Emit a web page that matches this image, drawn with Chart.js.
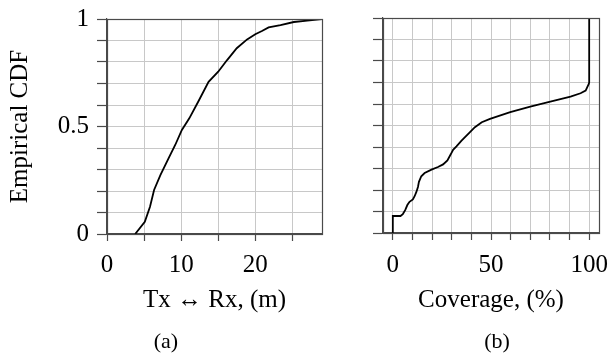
<!DOCTYPE html>
<html>
<head>
<meta charset="utf-8">
<script src="https://cdn.jsdelivr.net/npm/chart.js@4.4.1/dist/chart.umd.min.js"></script>
<style>
  html, body { margin: 0; padding: 0; background: #fff; }
  #wrap { position: relative; width: 611px; height: 356px; overflow: hidden; }
  canvas { position: absolute; top: 0; }
  #ca { left: 0; }
  #cb { left: 340px; }
  .cap { position: absolute; width: 100px; text-align: center; font-family: "Liberation Serif", serif; font-size: 22px; line-height: 26px; color: #000; }
</style>
</head>
<body>
<div id="wrap">
  <canvas id="ca" width="340" height="356"></canvas>
  <canvas id="cb" width="271" height="356"></canvas>
  <div class="cap" style="left:116px; top:328px;">(a)</div>
  <div class="cap" style="left:447px; top:328px;">(b)</div>
</div>
<script>
// ---- data ----
const distX = [3.8, 5.1, 5.8, 6.35, 7.2, 8.3, 9.2, 10.1, 11.1, 12.3, 13.7, 15.0, 16.2, 17.5, 18.9, 20.0, 20.9, 21.8, 23.4, 25.2, 27.0, 29.0];
const distCDF = [0, 0.057, 0.127, 0.205, 0.274, 0.352, 0.414, 0.484, 0.538, 0.615, 0.708, 0.755, 0.809, 0.864, 0.905, 0.929, 0.944, 0.961, 0.972, 0.986, 0.992, 1.0];

const covX = [0, 0, 3.9, 5.1, 6.3, 7.4, 8.5, 10.2, 11.1, 12.0, 12.8, 13.3, 14.5, 16.2, 19.7, 23.0, 25.6, 27.8, 29.5, 30.7, 32.4, 35.0, 39.3, 41.8, 45.3, 49.5, 59.8, 70.0, 80.2, 90.5, 95.6, 98.2, 99.8, 100, 100];
const covCDF = [0, 0.079, 0.079, 0.088, 0.106, 0.130, 0.145, 0.156, 0.171, 0.191, 0.214, 0.238, 0.264, 0.279, 0.295, 0.307, 0.319, 0.338, 0.366, 0.387, 0.403, 0.43, 0.469, 0.492, 0.515, 0.531, 0.562, 0.588, 0.611, 0.634, 0.650, 0.662, 0.693, 0.70, 1.0];

const yTicks = [0, 0.1, 0.2, 0.3, 0.4, 0.5, 0.6, 0.7, 0.8, 0.9, 1];
const yLabelsA = [0, 0.5, 1];
const yLabelsB = [];
const xTicksA = [0, 5, 10, 15, 20, 25];
const xLabelsA = [0, 10, 20];
const xTicksB = [0, 10, 20, 30, 40, 50, 60, 70, 80, 90, 100];
const xLabelsB = [0, 50, 100];
const xRangeA = [0, 29];
const xRangeB = [-5, 105];
const yRange = [0, 1];
const yTitle = 'Empirical CDF';
const xTitleA = 'Tx \u2194 Rx, (m)';
const xTitleB = 'Coverage, (%)';

// ---- styling ----
Chart.defaults.font.family = '"Liberation Serif", "Times New Roman", serif';
Chart.defaults.color = '#000';
const GRID = 'rgb(200,200,200)';
const AXIS = '#4a4a4a';

const frame = {
  id: 'frame',
  afterDatasetsDraw(chart) {
    const {ctx, chartArea: a} = chart;
    ctx.save();
    ctx.strokeStyle = AXIS;
    ctx.lineWidth = 1.2;
    ctx.strokeRect(Math.round(a.left) + 0.5, Math.round(a.top) + 0.5, Math.round(a.right - a.left), Math.round(a.bottom - a.top));
    ctx.restore();
  }
};

function pts(xs, ys) { return xs.map((x, i) => ({x, y: ys[i]})); }
function labelFn(list) {
  return (v) => list.some(l => Math.abs(l - v) < 1e-9) ? String(+v.toFixed(2)) : '';
}

function makeChart(id, o) {
  return new Chart(document.getElementById(id), {
    type: 'line',
    data: { datasets: [{ data: pts(o.xs, o.ys), borderColor: '#000', borderWidth: 1.8, pointRadius: 0, tension: 0, fill: false }] },
    plugins: [frame],
    options: {
      responsive: false, animation: false,
      layout: { padding: o.pad },
      plugins: { legend: { display: false }, tooltip: { enabled: false }, title: { display: false } },
      scales: {
        x: {
          type: 'linear', min: o.xRange[0], max: o.xRange[1],
          afterBuildTicks: s => { s.ticks = o.xTicks.map(v => ({value: v})); },
          afterFit: s => { s.height = o.xh; s.paddingLeft = 0; s.paddingRight = 0; },
          ticks: { callback: labelFn(o.xLabels), font: { size: 25 }, padding: o.xtp, maxRotation: 0, autoSkip: false, color: '#000' },
          grid: { color: GRID, lineWidth: 1, drawTicks: true, tickLength: 7, tickColor: AXIS, tickWidth: 1.2 },
          border: { display: true, color: AXIS, width: 1.2 },
          title: { display: true, text: o.xTitle, font: { size: 25 }, color: '#000', padding: { top: 0, bottom: 41 } }
        },
        y: {
          type: 'linear', min: yRange[0], max: yRange[1],
          afterBuildTicks: s => { s.ticks = yTicks.map(v => ({value: v})); },
          afterFit: s => { s.width = o.yw; s.paddingTop = 0; s.paddingBottom = 0; },
          ticks: { callback: labelFn(o.yLabels), font: { size: 25 }, padding: 8, autoSkip: false, color: '#000' },
          grid: { color: GRID, lineWidth: 1, drawTicks: true, tickLength: 10, tickColor: AXIS, tickWidth: 1.2 },
          border: { display: true, color: AXIS, width: 1.2 },
          title: { display: o.yTitle !== '', text: o.yTitle, font: { size: 25 }, color: '#000', padding: { top: 5, bottom: 0 } }
        }
      }
    }
  });
}

makeChart('ca', { xs: distX, ys: distCDF, xRange: xRangeA, xTicks: xTicksA, xLabels: xLabelsA, yLabels: yLabelsA,
  xTitle: xTitleA, yTitle: yTitle, pad: { left: 0, top: 19, right: 18, bottom: 0 }, xh: 122, yw: 107, xtp: 9 });
makeChart('cb', { xs: covX, ys: covCDF, xRange: xRangeB, xTicks: xTicksB, xLabels: xLabelsB, yLabels: yLabelsB,
  xTitle: xTitleB, yTitle: '', pad: { left: 0, top: 18, right: 12, bottom: 0 }, xh: 123, yw: 43, xtp: 10 });
</script>
</body>
</html>
